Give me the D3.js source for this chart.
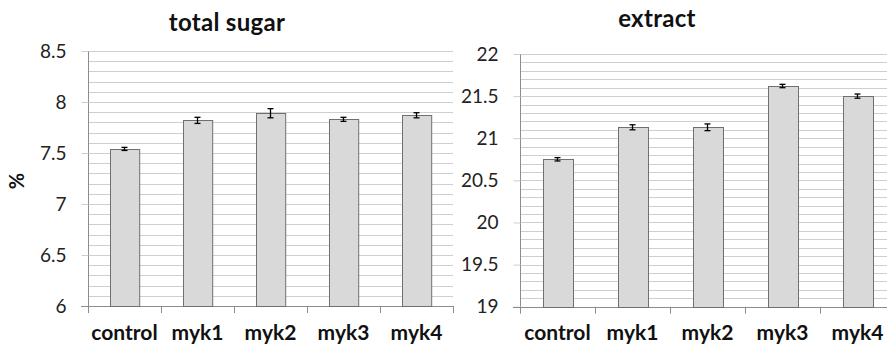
<!DOCTYPE html>
<html>
<head>
<meta charset="utf-8">
<script src="https://cdn.jsdelivr.net/npm/d3@7"></script>
<style>
  body { margin: 0; background: #fff; }
  svg { display: block; font-family: Lato, "Liberation Sans", sans-serif; }
</style>
</head>
<body>
<svg id="chart" width="887" height="347"></svg>
<script>
// data
var categories = ["control", "myk1", "myk2", "myk3", "myk4"]
var sugarValues = [7.54, 7.82, 7.89, 7.83, 7.87]
var sugarErrors = [0.015, 0.03, 0.045, 0.02, 0.025]
var sugarTicks = [6, 6.5, 7, 7.5, 8, 8.5]
var extractValues = [20.75, 21.13, 21.13, 21.62, 21.50]
var extractErrors = [0.02, 0.03, 0.04, 0.02, 0.025]
var extractTicks = [19, 19.5, 20, 20.5, 21, 21.5, 22]

var svg = d3.select("#chart")

//drawing style
var gridColor = "#cfcfcf"
var axisColor = "#8c8c8c"
var barFill = "#d9d9d9"
var barStroke = "#6f6f6f"

function drawPanel(opt) {
    var x = d3.scaleBand()
              .domain(categories)
              .range([opt.left, opt.right])
              .paddingInner(0.6)
              .paddingOuter(0.3)
    var y = d3.scaleLinear()
              .domain([opt.ticks[0], opt.ticks[opt.ticks.length - 1]])
              .range([opt.bottom, opt.top])

    var g = svg.append("g")

    //minor gridlines every 0.1
    var minor = d3.range(0, Math.round((y.domain()[1] - y.domain()[0]) * 10) + 1)
                  .map(i => y.domain()[0] + i / 10)
    g.append("g")
     .selectAll("line")
     .data(minor)
     .enter()
     .append("line")
     .attr("x1", opt.left)
     .attr("x2", opt.right)
     .attr("y1", d => Math.round(y(d)) + 0.5)
     .attr("y2", d => Math.round(y(d)) + 0.5)
     .attr("stroke", gridColor)
     .attr("stroke-width", 1)

    //y axis
    var yAxis = d3.axisLeft(y)
                  .tickValues(opt.ticks)
                  .tickSize(7)
                  .tickPadding(15)
                  .tickFormat(d3.format("~g"))
    var ya = g.append("g")
              .attr("transform", "translate(" + (opt.left + 0.5) + ",0)")
              .call(yAxis)
    ya.select(".domain").attr("stroke", axisColor).attr("d", "M0," + opt.bottom + "V" + opt.top)
    ya.selectAll(".tick line").attr("stroke", gridColor)
    ya.selectAll(".tick text")
      .attr("font-size", 19)
      .attr("fill", "#222")
      .attr("font-family", "Lato, sans-serif")

    //x axis with ticks between categories
    var bounds = d3.range(categories.length + 1)
                   .map(i => opt.left + i * (opt.right - opt.left) / categories.length)
    g.append("line")
     .attr("x1", opt.left - 7)
     .attr("x2", opt.right)
     .attr("y1", Math.round(opt.bottom) + 0.5)
     .attr("y2", Math.round(opt.bottom) + 0.5)
     .attr("stroke", axisColor)
    g.append("g")
     .selectAll("line")
     .data(bounds)
     .enter()
     .append("line")
     .attr("x1", d => Math.round(d) + 0.5)
     .attr("x2", d => Math.round(d) + 0.5)
     .attr("y1", opt.bottom)
     .attr("y2", opt.bottom + 7)
     .attr("stroke", axisColor)

    g.append("g")
     .selectAll("text")
     .data(categories)
     .enter()
     .append("text")
     .attr("x", d => x(d) + x.bandwidth() / 2)
     .attr("y", 340)
     .attr("text-anchor", "middle")
     .attr("font-size", 21)
     .attr("font-weight", "bold")
     .attr("fill", "#111")
     .text(d => d)

    //bars
    g.append("g")
     .selectAll("rect")
     .data(opt.values)
     .enter()
     .append("rect")
     .attr("x", (d, i) => Math.round(x(categories[i])) + 0.5)
     .attr("y", d => Math.round(y(d)) + 0.5)
     .attr("width", x.bandwidth())
     .attr("height", d => Math.round(opt.bottom) - Math.round(y(d)))
     .attr("fill", barFill)
     .attr("stroke", barStroke)
     .attr("stroke-width", 1)

    //error bars
    var err = g.append("g")
               .selectAll("g")
               .data(opt.values)
               .enter()
               .append("g")
               .attr("stroke", "#000")
               .attr("stroke-width", 1.3)
    err.append("line")
       .attr("x1", (d, i) => x(categories[i]) + x.bandwidth() / 2)
       .attr("x2", (d, i) => x(categories[i]) + x.bandwidth() / 2)
       .attr("y1", (d, i) => y(d - opt.errors[i]))
       .attr("y2", (d, i) => y(d + opt.errors[i]))
    err.selectAll(".cap")
       .data((d, i) => [[i, d - opt.errors[i]], [i, d + opt.errors[i]]])
       .enter()
       .append("line")
       .attr("x1", d => x(categories[d[0]]) + x.bandwidth() / 2 - 3)
       .attr("x2", d => x(categories[d[0]]) + x.bandwidth() / 2 + 3)
       .attr("y1", d => y(d[1]))
       .attr("y2", d => y(d[1]))

    //title
    g.append("text")
     .attr("x", opt.titleX)
     .attr("y", opt.titleY)
     .attr("text-anchor", "middle")
     .attr("font-size", 24)
     .attr("font-weight", "bold")
     .attr("letter-spacing", 0.3)
     .attr("fill", "#111")
     .text(opt.title)
}

drawPanel({
    title: "total sugar", titleX: 227, titleY: 31,
    left: 88, right: 453, top: 51, bottom: 306,
    ticks: sugarTicks, values: sugarValues, errors: sugarErrors
})
drawPanel({
    title: "extract", titleX: 657, titleY: 27,
    left: 520, right: 895, top: 54, bottom: 306.7,
    ticks: extractTicks, values: extractValues, errors: extractErrors
})

//y label
svg.append("text")
   .attr("transform", "translate(24,181) rotate(-90)")
   .attr("text-anchor", "middle")
   .attr("font-size", 20)
   .attr("font-weight", "bold")
   .attr("fill", "#111")
   .text("%")
</script>
</body>
</html>
